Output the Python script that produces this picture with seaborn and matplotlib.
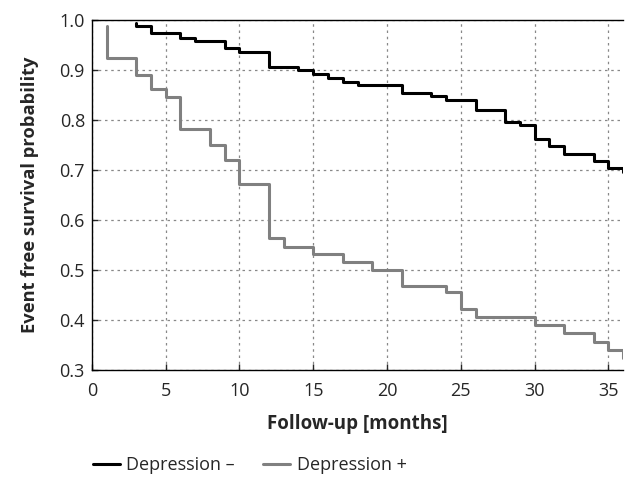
import pandas as pd
import seaborn as sns
from matplotlib import pyplot as plt

# Kaplan-Meier style step data
months_neg = [3, 3, 4, 6, 7, 9, 10, 12, 14, 15, 16, 17, 18, 21, 23, 24, 26,
              28, 29, 30, 31, 32, 34, 35, 36]
surv_neg = [0.995, 0.988, 0.974, 0.965, 0.958, 0.944, 0.937, 0.907, 0.900,
            0.892, 0.884, 0.876, 0.870, 0.855, 0.848, 0.841, 0.820, 0.796,
            0.791, 0.762, 0.747, 0.732, 0.717, 0.703, 0.695]

months_pos = [1, 1, 3, 4, 5, 6, 8, 9, 10, 12, 13, 15, 17, 19, 21, 24, 25, 26,
              30, 32, 34, 35, 36]
surv_pos = [0.988, 0.924, 0.891, 0.862, 0.847, 0.783, 0.751, 0.719, 0.672,
            0.563, 0.546, 0.531, 0.515, 0.500, 0.468, 0.455, 0.421, 0.405,
            0.390, 0.373, 0.356, 0.340, 0.323]

labels = ['Depression \u2013', 'Depression +']
colors = ['#000000', '#808080']

df = pd.concat([
    pd.DataFrame({'month': months_neg, 'surv': surv_neg, 'group': labels[0]}),
    pd.DataFrame({'month': months_pos, 'surv': surv_pos, 'group': labels[1]}),
])

sns.set_style('ticks')
plt.rcParams['font.family'] = ['Open Sans', 'DejaVu Sans']
plt.rcParams['font.size'] = 13

fig = plt.figure(figsize=(6.25, 4.79), dpi=100)
ax = fig.add_axes([0.147, 0.228, 0.85, 0.73])

sns.lineplot(
    data=df, x='month', y='surv', hue='group', palette=colors,
    estimator=None, sort=False, drawstyle='steps-post', linewidth=2.2,
    ax=ax, legend=False,
)

ax.set_xlim(0, 36)
ax.set_ylim(0.3, 1.0)
ax.set_xticks(range(0, 36, 5))
ax.set_yticks([0.3, 0.4, 0.5, 0.6, 0.7, 0.8, 0.9, 1.0])
ax.set_yticklabels(['0.3', '0.4', '0.5', '0.6', '0.7', '0.8', '0.9', '1.0'])
ax.grid(True, linestyle=(0, (2, 3)), color='#888888', linewidth=0.9)
ax.tick_params(axis='both', direction='in', length=4, width=1, labelsize=13)
ax.tick_params(axis='x', pad=9)
ax.tick_params(axis='y', pad=5)
ax.spines['right'].set_visible(False)
for s in ['left', 'bottom', 'top']:
    ax.spines[s].set_linewidth(1)
    ax.spines[s].set_color('black')

ax.set_xlabel('Follow-up [months]', fontweight='bold', fontsize=13.5,
              labelpad=10)
ax.set_ylabel('Event free survival probability', fontweight='bold',
              fontsize=13.2, labelpad=15)

handles = [plt.Line2D([], [], color=c, linewidth=2.2) for c in colors]
fig.legend(handles, labels, ncol=2, frameon=False, loc='center left',
           bbox_to_anchor=(0.148, 0.029), borderaxespad=0, borderpad=0,
           handlelength=1.5, handletextpad=0.35, columnspacing=1.6,
           fontsize=13)

fig.savefig('out.png', dpi=100)
